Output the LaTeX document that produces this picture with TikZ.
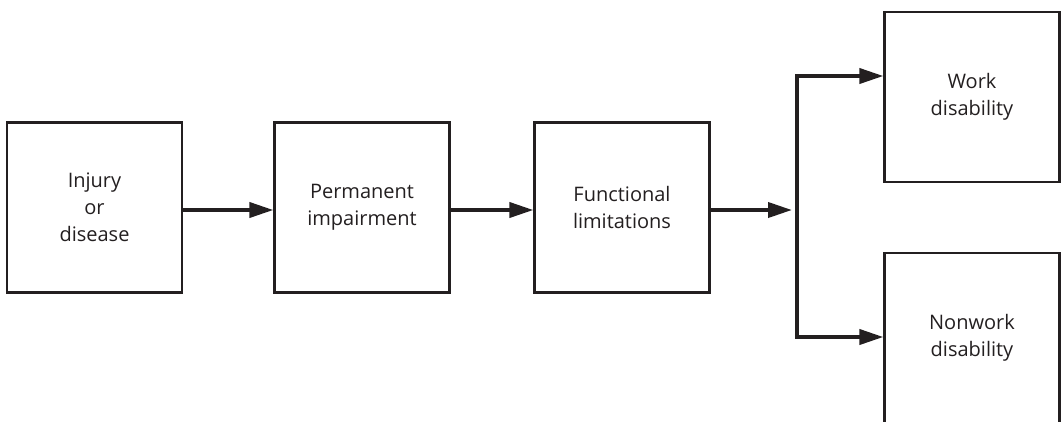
\documentclass[tikz,border=0pt]{standalone}
\usepackage{fontspec}
\setmainfont{Open Sans}
\usetikzlibrary{arrows.meta,positioning,calc}
\definecolor{ink}{HTML}{231F20}

\begin{document}
\begin{tikzpicture}[x=1pt,y=-1pt,>={Triangle[length=24pt,width=15pt]},
  stage/.style={draw=ink,text=ink,line width=2.2pt,minimum width=175pt,minimum height=170pt,align=center,font=\fontsize{20}{27}\selectfont},
  flow/.style={->,color=ink,line width=3.8pt}]
\useasboundingbox (0,0) rectangle (1062,421);
\node (inj) [stage] at (94.5,207.5) {Injury\\or\\disease};
\node (perm) [stage] at (362,207.5) {Permanent\\impairment};
\node (func) [stage] at (622,207.5) {Functional\\limitations};
\node (work) [stage] at (972,97) {Work\\disability};
\node (nonwork) [stage] at (972,338) {Nonwork\\disability};
\coordinate (split) at (792,210);
\coordinate (jt) at (797,76);
\coordinate (jb) at (797,337);
\draw[flow] (inj.east |- split)--(perm.west |- split);
\draw[flow] (perm.east |- split)--(func.west |- split);
\draw[flow] (func.east |- split)--(split);
\draw[flow,<->] (work.west |- jt)--(jt)--(jb)--(nonwork.west |- jb);
\end{tikzpicture}
\end{document}
